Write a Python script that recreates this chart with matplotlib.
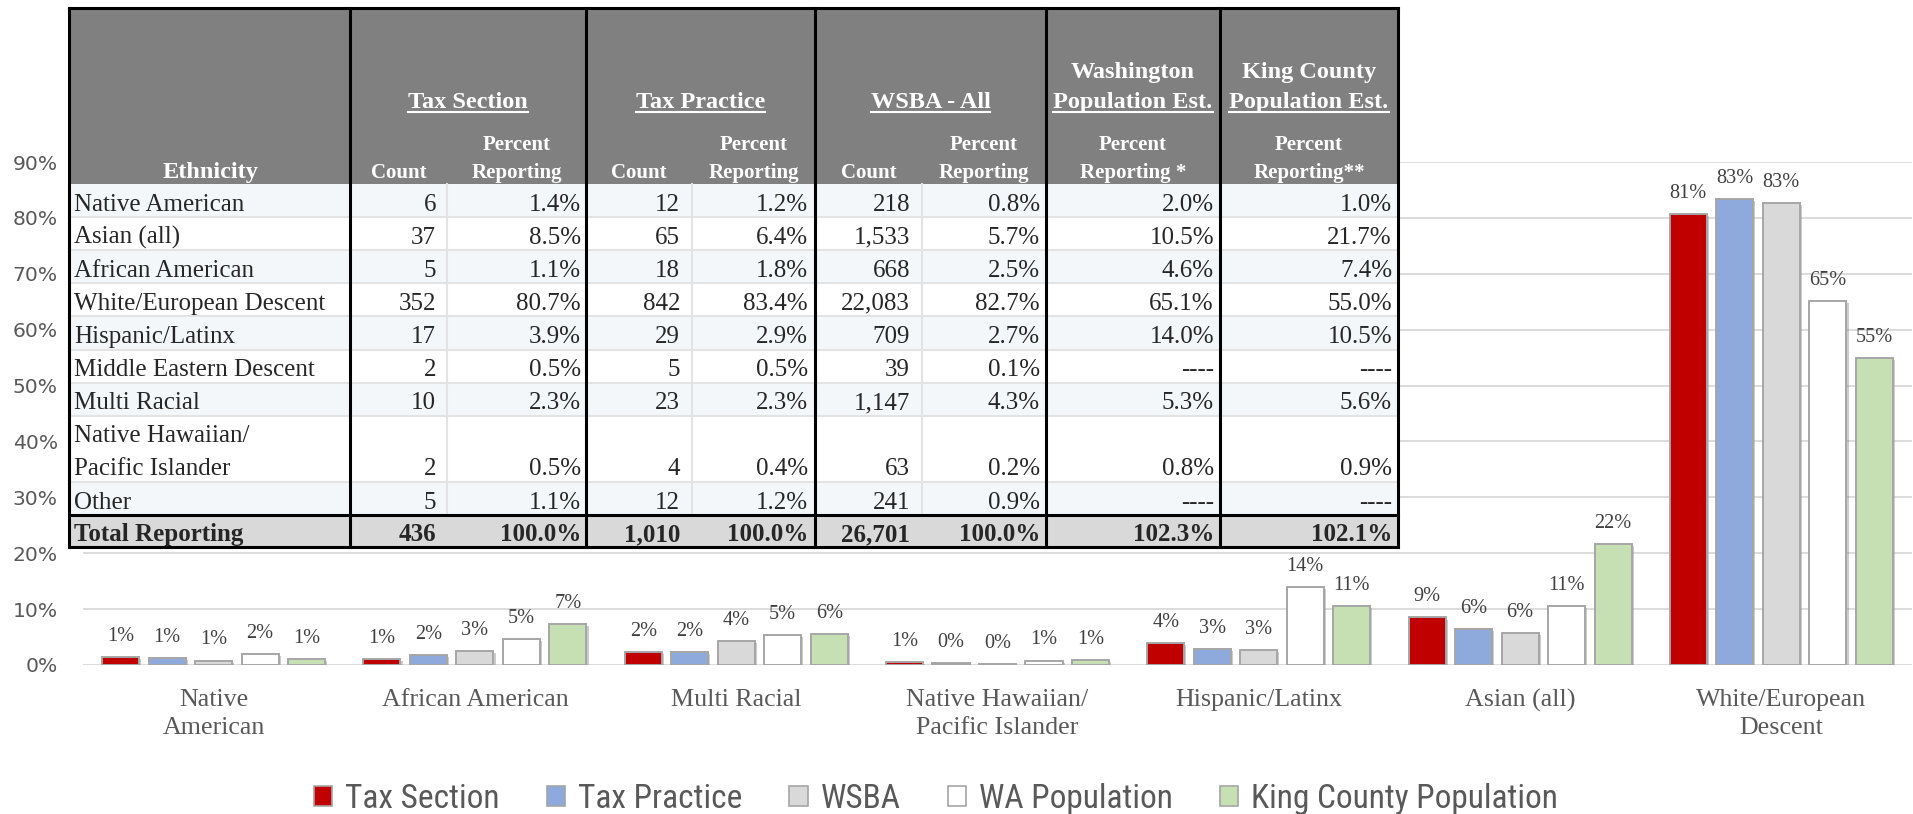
import numpy as np
import matplotlib.pyplot as plt
import matplotlib.patheffects as pe
from matplotlib.patches import Rectangle, Patch
from matplotlib import font_manager

W, H = 1913, 814

# ---- chart data (percent) ----
groups = ["Native\nAmerican", "African American", "Multi Racial",
          "Native Hawaiian/\nPacific Islander", "Hispanic/Latinx",
          "Asian (all)", "White/European\nDescent"]
series_names = ["Tax Section", "Tax Practice", "WSBA", "WA Population",
                "King County Population"]
tax_section = [1.4, 1.1, 2.3, 0.5, 3.9, 8.5, 80.7]
tax_practice = [1.2, 1.8, 2.3, 0.4, 2.9, 6.4, 83.4]
wsba = [0.8, 2.5, 4.3, 0.2, 2.7, 5.7, 82.7]
wa_pop = [2.0, 4.6, 5.3, 0.8, 14.0, 10.5, 65.1]
king_pop = [1.0, 7.4, 5.6, 0.9, 10.5, 21.7, 55.0]
colors = ["#C00000", "#8EA9DB", "#D9D9D9", "#FFFFFF", "#C6E0B4"]
yticks = list(range(0, 91, 10))

# ---- table data ----
ethnicity = ["Native American", "Asian (all)", "African American",
             "White/European Descent", "Hispanic/Latinx",
             "Middle Eastern Descent", "Multi Racial",
             "Native Hawaiian/\nPacific Islander", "Other"]
ts_count = [6, 37, 5, 352, 17, 2, 10, 2, 5]
ts_pct = [1.4, 8.5, 1.1, 80.7, 3.9, 0.5, 2.3, 0.5, 1.1]
tp_count = [12, 65, 18, 842, 29, 5, 23, 4, 12]
tp_pct = [1.2, 6.4, 1.8, 83.4, 2.9, 0.5, 2.3, 0.4, 1.2]
wsba_count = [218, 1533, 668, 22083, 709, 39, 1147, 63, 241]
wsba_pct = [0.8, 5.7, 2.5, 82.7, 2.7, 0.1, 4.3, 0.2, 0.9]
wa_pct = [2.0, 10.5, 4.6, 65.1, 14.0, None, 5.3, 0.8, None]
king_pct = [1.0, 21.7, 7.4, 55.0, 10.5, None, 5.6, 0.9, None]
totals = ["436", "100.0%", "1,010", "100.0%", "26,701", "100.0%", "102.3%", "102.1%"]

serif = "Liberation Serif"
names = {f.name for f in font_manager.fontManager.ttflist}
leg_font, leg_size = "Roboto", 21.5
for cand, size in [("Liberation Sans Narrow", 24), ("Roboto Condensed", 24)]:
    if cand in names:
        leg_font, leg_size = cand, size
        break

fig = plt.figure(figsize=(W / 100, H / 100), dpi=100)

# ---- bar chart ----
ax = fig.add_axes([83 / W, (H - 665) / H, 1829 / W, (665 - 162) / H])
x = np.arange(len(groups))
pitch = 0.178
bw = 0.142
all_series = [tax_section, tax_practice, wsba, wa_pop, king_pop]
for i, (vals, c) in enumerate(zip(all_series, colors)):
    pos = x + (i - 2) * pitch
    bars = ax.bar(pos, vals, width=bw, color=c, edgecolor="#A6A6A6",
                  linewidth=1.4, zorder=3)
    for b in bars:
        b.set_path_effects([pe.SimplePatchShadow(offset=(1.5, -1.5),
                                                 shadow_rgbFace="#8c8c8c", alpha=0.45),
                            pe.Normal()])
    for px, v in zip(pos, vals):
        ax.annotate(f"{int(v + 0.5)}%", (px, v), xytext=(0, 8),
                    textcoords="offset points", ha="center", va="bottom",
                    fontsize=14.6, family=serif, color="#404040")

ax.set_xlim(-0.5, len(groups) - 0.5)
ax.set_ylim(0, 90)
ax.set_yticks(yticks)
ax.set_yticklabels([f"{t}%" for t in yticks], fontsize=14.6, color="#595959")
ax.set_xticks(x)
ax.set_xticklabels(groups, fontsize=18.7, family=serif, color="#595959",
                   linespacing=1.4)
ax.tick_params(axis="y", length=0, pad=18)
ax.tick_params(axis="x", length=0, pad=17)
ax.yaxis.grid(True, color="#D9D9D9", linewidth=1.3, zorder=0)
ax.set_axisbelow(True)
for s in ax.spines.values():
    s.set_visible(False)

# ---- legend ----
handles = [Patch(facecolor=c, edgecolor="#A6A6A6", linewidth=1.2, label=n)
           for c, n in zip(colors, series_names)]
fig.legend(handles=handles, loc="center", bbox_to_anchor=(936 / W, 1 - 799 / H),
           ncol=5, frameon=False, prop={"family": leg_font, "size": leg_size},
           labelcolor="#595959", handlelength=0.55, handleheight=0.55,
           handletextpad=0.4, columnspacing=1.4)

# ---- table overlay ----
tab = fig.add_axes([0, 0, 1, 1], zorder=5)
tab.set_xlim(0, W)
tab.set_ylim(H, 0)
tab.axis("off")

x_edges = [69, 350, 586, 815, 1046, 1220, 1398]
sub_div = [447, 692, 922]
top, head_bot = 8, 184
unit = 33.1
units = [1, 1, 1, 1, 1, 1, 1, 2, 1]
row_tops = [head_bot]
for u in units:
    row_tops.append(row_tops[-1] + u * unit)
total_top = row_tops[-1]
total_bot = total_top + 32

tab.add_patch(Rectangle((x_edges[0], top), x_edges[-1] - x_edges[0], head_bot - top,
                        facecolor="#808080", edgecolor="none"))
for r in range(len(units)):
    fc = "#F3F7F9" if r % 2 == 0 else "#FFFFFF"
    tab.add_patch(Rectangle((x_edges[0], row_tops[r]), x_edges[-1] - x_edges[0],
                            row_tops[r + 1] - row_tops[r], facecolor=fc, edgecolor="none"))
tab.add_patch(Rectangle((x_edges[0], total_top), x_edges[-1] - x_edges[0],
                        total_bot - total_top, facecolor="#D9D9D9", edgecolor="none"))
for yy in row_tops[1:-1]:
    tab.plot([x_edges[0], x_edges[-1]], [yy, yy], color="#E3E3E3", lw=1.5)
for xx in sub_div:
    tab.plot([xx, xx], [head_bot, total_top], color="#E3E3E3", lw=1.5)

# thick borders
for xx in x_edges:
    tab.plot([xx, xx], [top, total_bot], color="black", lw=2.2)
for yy in [top, total_top, total_bot]:
    tab.plot([x_edges[0], x_edges[-1]], [yy, yy], color="black", lw=2.2)

hdr = dict(family=serif, weight="bold", color="white")
tab.text(210, 178, "Ethnicity", ha="center", va="baseline", fontsize=17.5, **hdr)

group_titles = [((350 + 586) / 2, "Tax Section"), ((586 + 815) / 2, "Tax Practice"),
                ((815 + 1046) / 2, "WSBA - All"), ((1046 + 1220) / 2, "Population Est."),
                ((1220 + 1398) / 2, "Population Est.")]
ul_texts = [tab.text(xc, 108, s, ha="center", va="baseline", fontsize=17.5, **hdr)
            for xc, s in group_titles]
tab.text((1046 + 1220) / 2, 78, "Washington", ha="center", va="baseline", fontsize=17.5, **hdr)
tab.text((1220 + 1398) / 2, 78, "King County", ha="center", va="baseline", fontsize=17.5, **hdr)

sub_cols = [(350, 447), (447, 586), (586, 692), (692, 815), (815, 922), (922, 1046)]
for k, (a, b) in enumerate(sub_cols):
    xc = (a + b) / 2
    if k % 2 == 0:
        tab.text(xc, 178, "Count", ha="center", va="baseline", fontsize=15, **hdr)
    else:
        tab.text(xc, 150, "Percent", ha="center", va="baseline", fontsize=15, **hdr)
        tab.text(xc, 178, "Reporting", ha="center", va="baseline", fontsize=15, **hdr)
for (a, b), star in [((1046, 1220), " *"), ((1220, 1398), "**")]:
    xc = (a + b) / 2
    tab.text(xc, 150, "Percent", ha="center", va="baseline", fontsize=15, **hdr)
    tab.text(xc, 178, "Reporting" + star, ha="center", va="baseline", fontsize=15, **hdr)

body = dict(family=serif, color="#262626", fontsize=18)
right_x = [436, 581, 680, 808, 910, 1040, 1214, 1392]

def pct(v):
    return "----" if v is None else f"{v:.1f}%"

for r, name in enumerate(ethnicity):
    yb = row_tops[r + 1] - 6.5
    if "\n" in name:
        l1, l2 = name.split("\n")
        tab.text(74, yb - unit, l1, ha="left", va="baseline", **body)
        tab.text(74, yb, l2, ha="left", va="baseline", **body)
    else:
        tab.text(74, yb, name, ha="left", va="baseline", **body)
    cells = [f"{ts_count[r]:,}", pct(ts_pct[r]), f"{tp_count[r]:,}", pct(tp_pct[r]),
             f"{wsba_count[r]:,}", pct(wsba_pct[r]), pct(wa_pct[r]), pct(king_pct[r])]
    for xr, s in zip(right_x, cells):
        tab.text(xr, yb, s, ha="right", va="baseline", **body)

yb = total_bot - 6
tab.text(74, yb, "Total Reporting", ha="left", va="baseline", weight="bold", **body)
for xr, s in zip(right_x, totals):
    tab.text(xr, yb, s, ha="right", va="baseline", weight="bold", **body)

# underline group titles
fig.canvas.draw()
inv = tab.transData.inverted()
for t in ul_texts:
    bb = t.get_window_extent()
    (x0, _), (x1, _) = inv.transform([(bb.x0, bb.y0), (bb.x1, bb.y1)])
    tab.plot([x0, x1], [112, 112], color="white", lw=1.5)

fig.savefig("out.png", dpi=100)
